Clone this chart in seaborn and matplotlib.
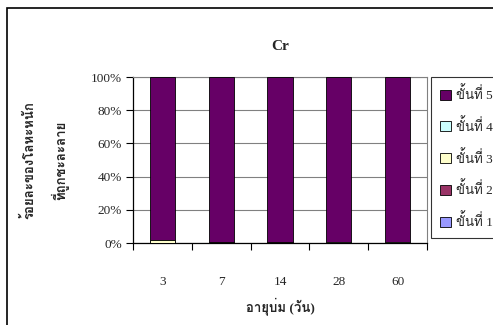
import numpy as np
import pandas as pd
import matplotlib
matplotlib.use("Agg")
import matplotlib.pyplot as plt
import seaborn as sns
from matplotlib import font_manager
from matplotlib.ft2font import FT2Font
from matplotlib.patches import Rectangle
from matplotlib.ticker import FuncFormatter, FixedLocator

# Data (percent of metal leached, per extraction stage)
days = ["3", "7", "14", "28", "60"]
stage1 = [0.0, 0.0, 0.0, 0.0, 0.0]
stage2 = [0.2, 0.6, 0.6, 0.3, 0.3]
stage3 = [1.4, 0.2, 0.2, 0.1, 0.1]
stage4 = [0.0, 0.0, 0.0, 0.0, 0.0]
stage5 = [98.4, 99.2, 99.2, 99.6, 99.6]

stage_labels = ["ขั้นที่ 1", "ขั้นที่ 2", "ขั้นที่ 3", "ขั้นที่ 4", "ขั้นที่ 5"]
stage_colors = ["#9999FF", "#993366", "#FFFFCC", "#CCFFFF", "#660066"]


def find_thai_font():
    """Return the first installed family that has Thai glyphs."""
    seen = set()
    for f in font_manager.fontManager.ttflist:
        if f.name in seen:
            continue
        seen.add(f.name)
        try:
            cmap = FT2Font(f.fname).get_charmap()
        except Exception:
            continue
        if 0x0E02 in cmap and 0x0E31 in cmap:
            return f.name
    return "DejaVu Sans"


sns.set_style("white")
thai = find_thai_font()
plt.rcParams['font.family'] = ['Liberation Serif', thai, 'DejaVu Sans']

df = pd.DataFrame({"day": days, "s1": stage1, "s2": stage2, "s3": stage3,
                   "s4": stage4, "s5": stage5})
cols = ["s1", "s2", "s3", "s4", "s5"]
cum = df[cols].cumsum(axis=1)

fig = plt.figure(figsize=(4.93, 3.25), dpi=100)
ax = fig.add_axes([133 / 493, 1 - 243 / 325, (427 - 133) / 493, (243 - 77) / 325])

# stacked bars: draw cumulative totals from top stage down
for i in range(4, -1, -1):
    sns.barplot(x=df["day"], y=cum[cols[i]], order=days, color=stage_colors[i],
                edgecolor="black", linewidth=0.6, width=0.43, saturation=1,
                ax=ax, label=stage_labels[i], zorder=3)

handles, labels = ax.get_legend_handles_labels()
if ax.get_legend():
    ax.get_legend().remove()

ax.set_xlim(-0.5, 4.5)
ax.set_ylim(0, 100)
ax.set_yticks(range(0, 101, 20))
ax.yaxis.set_major_formatter(FuncFormatter(lambda v, p: f"{v:.0f}%"))
ax.yaxis.grid(True, color="#808080", lw=0.8, zorder=0)
ax.set_axisbelow(True)

ax.xaxis.set_minor_locator(FixedLocator(np.arange(-0.5, 5, 1)))
ax.tick_params(axis="x", which="major", length=0, pad=24, labelsize=9.5)
ax.tick_params(axis="x", which="minor", length=5, width=0.8, direction="out",
               color="black", bottom=True)
ax.tick_params(axis="y", length=5, width=0.8, direction="out", color="black",
               left=True, labelsize=9.5, pad=3)

for s in ["left", "bottom"]:
    ax.spines[s].set_color("black")
    ax.spines[s].set_linewidth(0.9)
for s in ["top", "right"]:
    ax.spines[s].set_color("#808080")
    ax.spines[s].set_linewidth(0.8)

ax.set_xlabel("")
ax.set_ylabel("")
fig.text(280 / 493, 1 - 306 / 325, "อายุบ่ม (วัน)", ha="center", va="center",
         fontsize=9.5, fontweight="bold")
fig.text(280 / 493, 1 - 47 / 325, "Cr", ha="center", va="center",
         fontsize=11, fontweight="bold")
fig.text(29 / 493, 1 - 160 / 325, "ร้อยละของโลหะหนัก", rotation=90,
         ha="center", va="center", fontsize=9.5, fontweight="bold")
fig.text(60 / 493, 1 - 160 / 325, "ที่ถูกชะละลาย", rotation=90,
         ha="center", va="center", fontsize=9.5, fontweight="bold")

leg = fig.legend(handles, labels, loc="upper left",
                 bbox_to_anchor=(431 / 493, 1 - 77 / 325), frameon=True,
                 fancybox=False, fontsize=9.5, handlelength=0.8,
                 handleheight=0.8, handletextpad=0.4, labelspacing=1.2,
                 borderpad=0.7, borderaxespad=0)
leg.get_frame().set_edgecolor("black")
leg.get_frame().set_linewidth(0.8)

# outer chart border
fig.patches.append(Rectangle((7 / 493, -0.1), 1.2, 1 - 8 / 325 + 0.1,
                             transform=fig.transFigure, fill=False,
                             edgecolor="black", lw=1.2))

fig.savefig("out.png", dpi=100)
